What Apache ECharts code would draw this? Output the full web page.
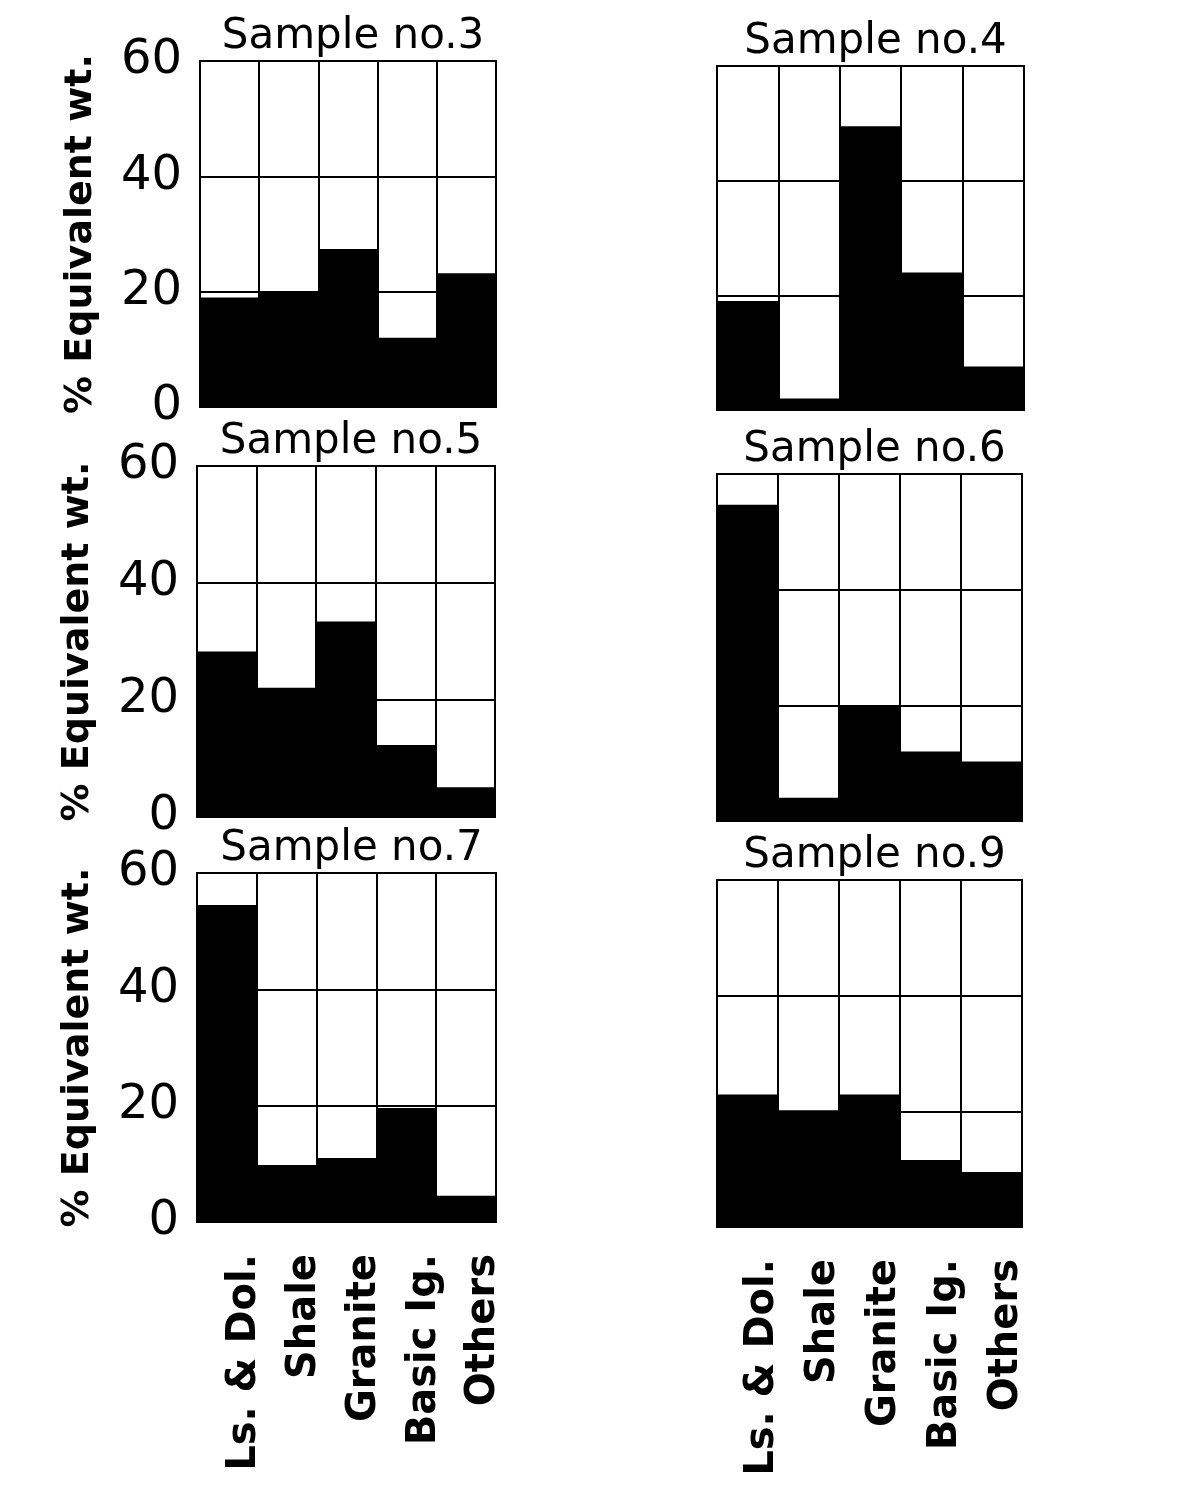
<!DOCTYPE html>
<html><head><meta charset="utf-8">
<script src="https://cdn.jsdelivr.net/npm/echarts@6/dist/echarts.min.js"></script>
<style>html,body{margin:0;padding:0;background:#fff}#c{width:1180px;height:1487px}</style>
</head><body><div id="c"></div>
<script>
const categories = ['Ls. & Dol.', 'Shale', 'Granite', 'Basic Ig.', 'Others'];
const sampleTitles = ['Sample no.3', 'Sample no.4', 'Sample no.5', 'Sample no.6', 'Sample no.7', 'Sample no.9'];
const sample3 = [19, 20, 27.4, 12, 23.2];
const sample4 = [19, 2, 49.5, 24, 7.6];
const sample5 = [28.3, 22.1, 33.4, 12.3, 5.1];
const sample6 = [54.7, 4, 20, 12, 10.3];
const sample7 = [54.5, 9.8, 11, 19.6, 4.5];
const sample9 = [22.9, 20.2, 22.9, 11.6, 9.5];
const yTicks = [0, 20, 40, 60];

const allData = [sample3, sample4, sample5, sample6, sample7, sample9];
const grids = [
  {left: 200, top: 61, width: 296, height: 346},
  {left: 717, top: 66, width: 307, height: 344},
  {left: 197, top: 466, width: 298, height: 351},
  {left: 717, top: 474, width: 305, height: 347},
  {left: 197, top: 873, width: 299, height: 349},
  {left: 717, top: 880, width: 305, height: 347}
];
const FONT = '"DejaVu Sans", sans-serif';
const option = {
  backgroundColor: '#fff',
  animation: false,
  title: grids.map((g, i) => ({
    text: sampleTitles[i],
    left: g.left + g.width / 2,
    top: g.top - 50,
    textAlign: 'center',
    textStyle: {fontFamily: FONT, fontSize: 42, fontWeight: 'normal', color: '#000'}
  })),
  grid: grids.map(g => Object.assign({show: true, borderColor: '#000', borderWidth: 2, backgroundColor: '#fff'}, g)),
  xAxis: grids.map((g, i) => ({
    type: 'category', gridIndex: i, data: categories,
    axisLine: {show: false}, axisTick: {show: false},
    splitLine: {show: true, interval: 0, lineStyle: {color: '#000', width: 2}},
    axisLabel: {show: i >= 4, rotate: 90, interval: 0, margin: 32,
      verticalAlign: 'top', lineHeight: i === 4 ? 36 : 30,
      fontFamily: FONT, fontSize: 40, fontWeight: 'bold', color: '#000'}
  })),
  yAxis: grids.map((g, i) => ({
    type: 'value', gridIndex: i, min: 0, max: 60, interval: 20,
    axisLine: {show: false}, axisTick: {show: false},
    splitLine: {show: true, lineStyle: {color: '#000', width: 2}},
    axisLabel: {show: i % 2 === 0, margin: 18, fontFamily: FONT, fontSize: 48, color: '#000',
      formatter: v => yTicks.includes(v) ? String(v) : ''},
    name: i % 2 === 0 ? '% Equivalent wt.' : '',
    nameLocation: 'middle', nameRotate: 90, nameGap: 100,
    nameTextStyle: {fontFamily: FONT, fontSize: 38, fontWeight: 'bold', color: '#000'}
  })),
  series: allData.map((d, i) => ({
    type: 'bar', xAxisIndex: i, yAxisIndex: i, data: d,
    barCategoryGap: '0%', itemStyle: {color: '#000'}, z: 3
  }))
};
echarts.init(document.getElementById('c'), null, {renderer: 'canvas'}).setOption(option);
</script></body></html>
